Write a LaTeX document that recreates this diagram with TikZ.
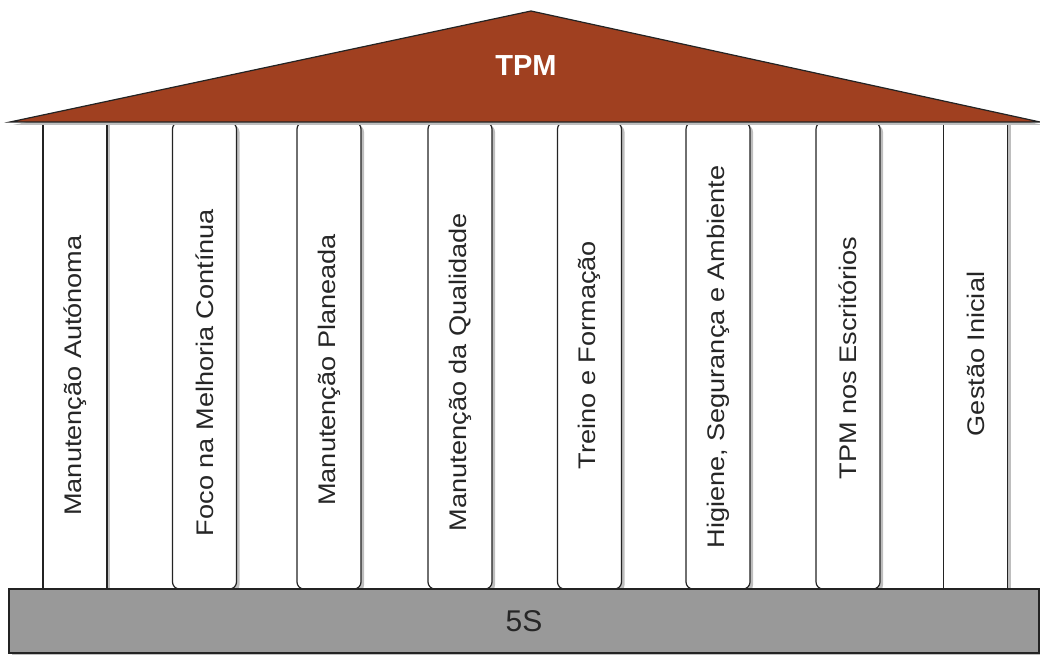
\documentclass[tikz,border=0pt]{standalone}
\usepackage{fontspec}
\usepackage{graphicx}
\setmainfont{Liberation Sans}
\usetikzlibrary{shadows}
\definecolor{roofred}{RGB}{160,64,32}
\definecolor{basegray}{RGB}{153,153,153}
\definecolor{edgeline}{RGB}{35,35,35}
\definecolor{shadowgray}{RGB}{190,190,190}
% pillar captions: slightly stretched along the baseline
\newcommand{\pillarcaption}[1]{\scalebox{1.13}[1]{#1}}
\begin{document}
\begin{tikzpicture}[x=1pt,y=-1pt,
  shade/.style={drop shadow={shadow xshift=3pt, shadow yshift=-3pt, fill=shadowgray, opacity=1}},
  pillar/.style={draw=edgeline, line width=1.2pt, fill=white, shade,
    minimum width=64pt, minimum height=467pt, inner sep=0pt, outer sep=0pt},
  roundpillar/.style={pillar, rounded corners=7pt},
  squarepillar/.style={pillar, sharp corners},
  pillartext/.style={rotate=90, inner sep=0pt, font=\fontsize{24}{24}\selectfont, text=black!85},
  roof/.style={draw=edgeline, line width=1.2pt, fill=roofred, shade, line join=miter},
  basebox/.style={draw=edgeline, line width=1.2pt, fill=basegray, shade,
    minimum width=1030pt, minimum height=64pt, inner sep=0pt, outer sep=0pt,
    font=\fontsize{30}{30}\selectfont, text=black!85}]
  \useasboundingbox (0,0) rectangle (1040,655);

  % pillars
  \node[squarepillar] (p1) at (75,355.5) {};
  \node[roundpillar]  (p2) at (204.5,355.5) {};
  \node[roundpillar]  (p3) at (329,355.5) {};
  \node[roundpillar]  (p4) at (460,355.5) {};
  \node[roundpillar]  (p5) at (589.5,355.5) {};
  \node[roundpillar]  (p6) at (718,355.5) {};
  \node[roundpillar]  (p7) at (848,355.5) {};
  \node[squarepillar] (p8) at (975.5,355.5) {};

  % pillar labels
  \node[pillartext] (t1) at (75,375.5)    {\pillarcaption{Manutenção Autónoma}};
  \node[pillartext] (t2) at (204.5,372.5) {\pillarcaption{Foco na Melhoria Contínua}};
  \node[pillartext] (t3) at (329,370)     {\pillarcaption{Manutenção Planeada}};
  \node[pillartext] (t4) at (460,372)     {\pillarcaption{Manutenção da Qualidade}};
  \node[pillartext] (t5) at (589.5,355)   {\pillarcaption{Treino e Formação}};
  \node[pillartext] (t6) at (718,357)     {\pillarcaption{Higiene, Segurança e Ambiente}};
  \node[pillartext] (t7) at (848,358)     {\pillarcaption{TPM nos Escritórios}};
  \node[pillartext] (t8) at (975.5,354)   {\pillarcaption{Gestão Inicial}};

  % roof
  \draw[roof] (10,122) -- (531,11) -- (1040,122) -- cycle;
  \node[text=white, font=\fontsize{29}{29}\selectfont\bfseries] (tpm) at (526,66) {TPM};

  % foundation
  \node[basebox] (base) at (524,621) {5S};
\end{tikzpicture}
\end{document}
